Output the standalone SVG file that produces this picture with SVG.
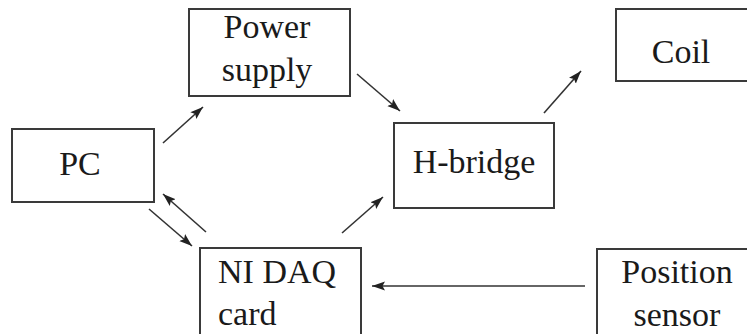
<svg xmlns="http://www.w3.org/2000/svg" width="747" height="334" viewBox="0 0 747 334">
<style>
.box{fill:#fff;stroke:#3a3a3a;stroke-width:2}
text{font-family:'Liberation Serif','DejaVu Serif',serif;font-size:34px;fill:#1a1a1a}
.c{text-anchor:middle}
.edge{stroke:#333;stroke-width:1.6;fill:none;marker-end:url(#ah)}
</style>
<defs>
<marker id="ah" markerUnits="userSpaceOnUse" markerWidth="14" markerHeight="10" refX="13" refY="4.5" orient="auto">
<path d="M0,0 L13,4.5 L0,9 L2.5,4.5 z" fill="#222"/>
</marker>
</defs>
<rect width="747" height="334" fill="#fff"/>
<g id="pc"><rect class="box" x="12" y="129" width="142" height="73"/><text class="c" x="80" y="175" font-family="Liberation Serif, serif">PC</text></g>
<g id="power-supply"><rect class="box" x="189" y="9" width="161" height="87"/><text class="c" x="267" y="38" font-family="Liberation Serif, serif">Power</text><text class="c" x="267" y="81" font-family="Liberation Serif, serif">supply</text></g>
<g id="h-bridge"><rect class="box" x="394" y="123" width="160" height="85"/><text class="c" x="474" y="173" font-family="Liberation Serif, serif">H-bridge</text></g>
<g id="coil"><rect class="box" x="616" y="9" width="140" height="72"/><text class="c" x="681" y="63" font-family="Liberation Serif, serif">Coil</text></g>
<g id="ni-daq"><rect class="box" x="200" y="248" width="161" height="100"/><text x="218" y="283" font-family="Liberation Serif, serif">NI DAQ</text><text x="218" y="325" font-family="Liberation Serif, serif">card</text></g>
<g id="position-sensor"><rect class="box" x="597" y="249" width="160" height="100"/><text class="c" x="677" y="283" font-family="Liberation Serif, serif">Position</text><text class="c" x="677" y="326" font-family="Liberation Serif, serif">sensor</text></g>
<g id="connectors">
<line class="edge" x1="163" y1="143" x2="203" y2="107"/>
<line class="edge" x1="357" y1="74" x2="400" y2="111"/>
<line class="edge" x1="544" y1="113" x2="581" y2="71"/>
<line class="edge" x1="342" y1="233" x2="383" y2="197"/>
<line class="edge" x1="149" y1="209" x2="192" y2="246"/>
<line class="edge" x1="206" y1="232" x2="163" y2="194"/>
<line class="edge" x1="585" y1="286" x2="372" y2="286"/>
</g>
</svg>
